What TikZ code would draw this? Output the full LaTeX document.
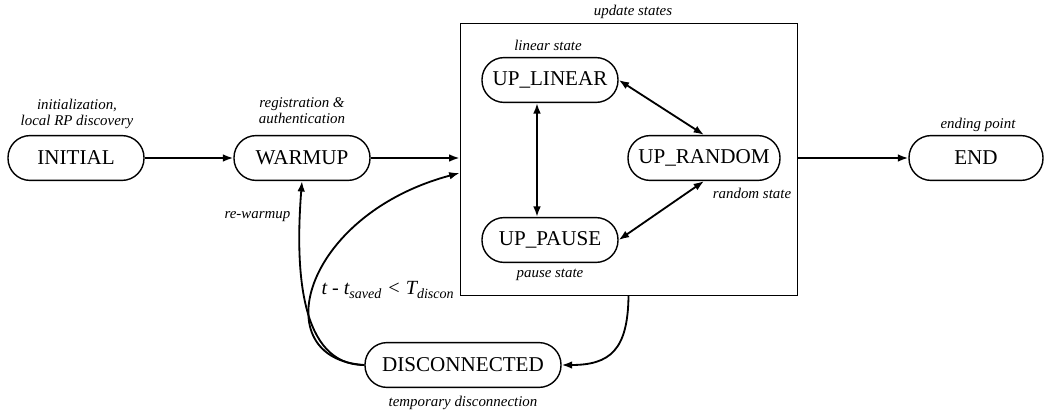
\documentclass[tikz,border=0pt]{standalone}
\usepackage{fontspec}
\setmainfont{Liberation Serif}
\usetikzlibrary{arrows.meta}

\tikzset{
  etat/.style={draw, line width=1pt, rounded corners=0.55cm, minimum height=1.12cm,
    font=\fontsize{15}{18}\selectfont},
  legende/.style={font=\fontsize{10.6}{11}\selectfont\itshape, align=center},
  fleche/.style={->, line width=1.3pt},
}

\begin{document}
\begin{tikzpicture}[scale=1, >={Latex[length=2.6mm,width=1.9mm]}]

		\useasboundingbox (0,0) rectangle (26.1,10.325);

		% Cadre des etats de mise a jour
		\node[draw, line width=0.6pt, minimum width=8.425cm, minimum height=6.8cm] (upd) at (15.7125,6.35) {};
		\node[legende] (lupd) at (15.825,10.025) {update states};

		% Etats principaux
		\node[etat, minimum width=3.4cm] (init) at (1.9,6.375) {INITIAL};
		\node[etat, minimum width=3.4cm] (warm) at (7.55,6.375) {WARMUP};
		\node[etat, minimum width=3.35cm] (end) at (24.4,6.375) {END};
		\node[etat, minimum width=4.9cm] (disc) at (11.575,1.2) {DISCONNECTED};

		% Etats internes
		\node[etat, minimum width=3.4cm] (lin) at (13.75,8.325) {UP\_LINEAR};
		\node[etat, minimum width=3.8cm] (rnd) at (17.6,6.375) {UP\_RANDOM};
		\node[etat, minimum width=3.4cm] (pause) at (13.75,4.325) {UP\_PAUSE};

		% Legendes
		\node[legende] (linit) at (1.925,7.475) {initialization,\\local RP discovery};
		\node[legende] (lwarm) at (7.55,7.56) {registration \&\\authentication};
		\node[legende] (llin) at (13.7,9.2) {linear state};
		\node[legende] (lrnd) at (18.8,5.5) {random state};
		\node[legende] (lpause) at (13.75,3.45) {pause state};
		\node[legende] (lend) at (24.45,7.2) {ending point};
		\node[legende] (ldisc) at (11.575,0.25) {temporary disconnection};
		\node[legende, anchor=east] (lre) at (7.38,4.9) {re-warmup};
		\node[font=\fontsize{14.3}{17}\selectfont\itshape] (lcond) at (9.7,3.075)
		{t - t\textsubscript{saved} < T\textsubscript{discon}};

		% Transitions
		\draw[fleche] (init) -- (warm);
		\draw[fleche] (warm) -- (warm -| upd.west);
		\draw[fleche] (upd.east |- end) -- (end);
		\draw[fleche, <->] ([xshift=-0.325cm]lin.south) -- ([xshift=-0.325cm]pause.north);
		\draw[fleche, <->] (lin.east) -- (rnd.north);
		\draw[fleche, <->] (rnd.south) -- (pause.east);

		% Deconnexion et retours
		\draw[fleche] (upd.south) .. controls (15.7,1.575) and (15.25,1.2) .. (disc.east);
		\draw[fleche] (disc.west) .. controls (7.5,1.2) and (7.375,3.575) .. (warm.south);
		\draw[fleche] (disc.west) .. controls (6.6,1.35) and (7.55,4.95) .. ([yshift=-0.35cm]upd.west);

	\end{tikzpicture}
\end{document}
